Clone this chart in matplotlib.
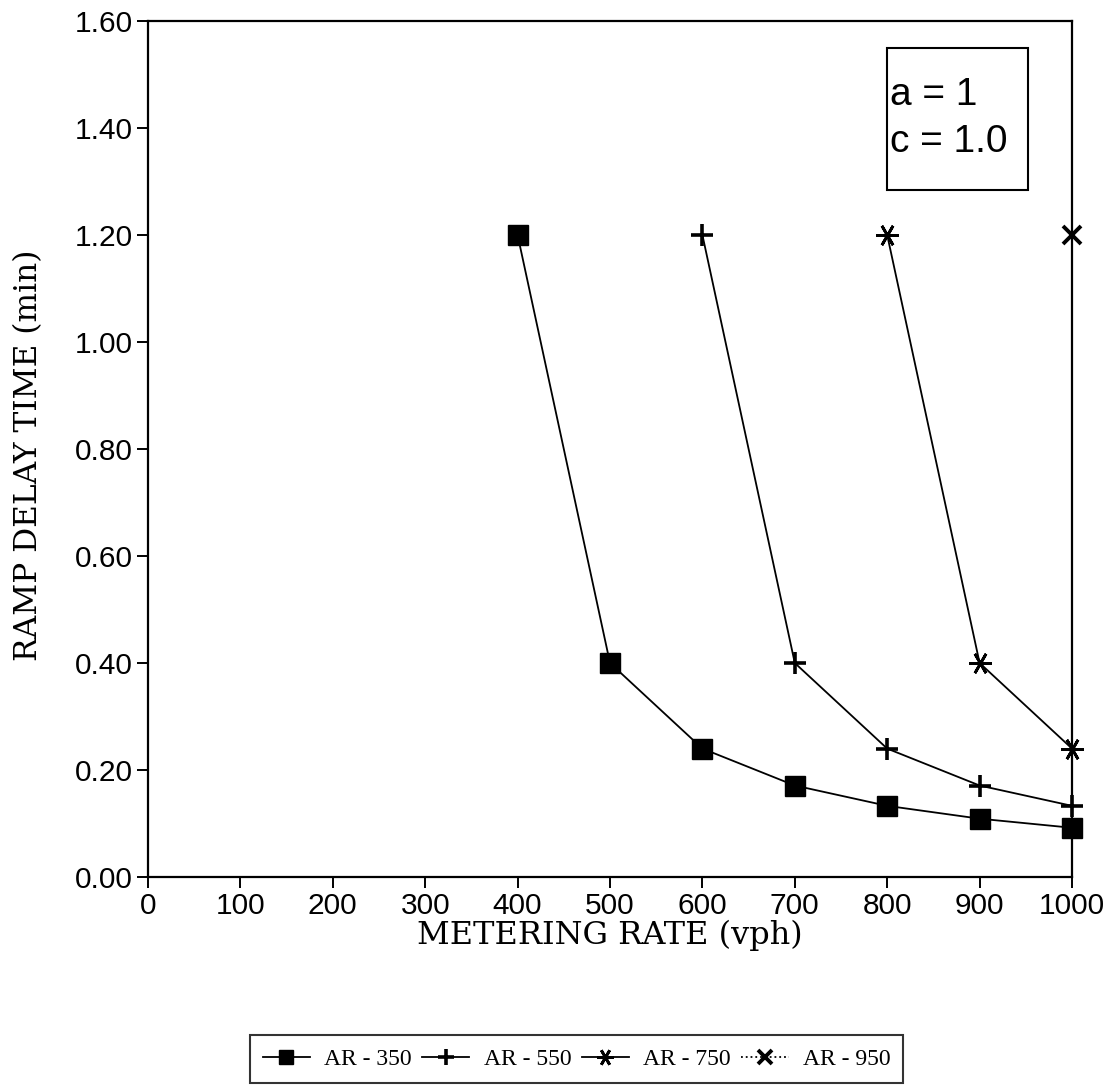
import matplotlib
matplotlib.use("Agg")
import matplotlib.pyplot as plt
from matplotlib.patches import Rectangle

# Data
metering_rate = [400, 500, 600, 700, 800, 900, 1000]
ar350 = [1.20, 0.40, 0.24, 0.171, 0.133, 0.109, 0.092]
rate_550 = [600, 700, 800, 900, 1000]
ar550 = [1.20, 0.40, 0.24, 0.171, 0.133]
rate_750 = [800, 900, 1000]
ar750 = [1.20, 0.40, 0.24]
rate_950 = [1000]
ar950 = [1.20]
labels = ["AR - 350", "AR - 550", "AR - 750", "AR - 950"]
xticks = list(range(0, 1001, 100))
yticks = [0.0, 0.2, 0.4, 0.6, 0.8, 1.0, 1.2, 1.4, 1.6]

W, H = 1115, 1086
fig = plt.figure(figsize=(W / 100, H / 100), dpi=100)
x0, x1, ytop, ybot = 148, 1072, 21, 877
ax = fig.add_axes([x0 / W, 1 - ybot / H, (x1 - x0) / W, (ybot - ytop) / H])

lw = 1.3
ax.plot(metering_rate, ar350, color="black", lw=lw, marker="s", ms=14,
        mfc="black", mec="black", label=labels[0], clip_on=False)
ax.plot(rate_550, ar550, color="black", lw=lw, marker="+", ms=16, mew=2.6,
        label=labels[1], clip_on=False)
ax.plot(rate_750, ar750, color="black", lw=lw, marker=(6, 2, 90), ms=16, mew=2.0,
        label=labels[2], clip_on=False)
ax.plot(rate_950, ar950, color="black", lw=lw, ls=":", marker="x", ms=13, mew=2.8,
        label=labels[3], clip_on=False)

ax.set_xlim(0, 1000)
ax.set_ylim(0, 1.6)
ax.set_xticks(xticks)
ax.set_yticks(yticks)
ax.set_xticklabels([str(v) for v in xticks])
ax.set_yticklabels([f"{v:.2f}" for v in yticks])
for s in ax.spines.values():
    s.set_linewidth(1.6)
ax.tick_params(direction="out", length=8, width=1.4, labelsize=21.5, pad=3)
for t in ax.get_xticklabels() + ax.get_yticklabels():
    t.set_fontfamily("Liberation Sans")

ax.set_xlabel("METERING RATE (vph)", fontfamily="DejaVu Serif", fontsize=23, labelpad=0)
ax.set_ylabel("RAMP DELAY TIME (min)", fontfamily="DejaVu Serif", fontsize=22.5)
ax.yaxis.set_label_coords((44 - x0) / (x1 - x0), (ybot - 455) / (ybot - ytop))

# Annotation box
bl, br, bt, bb = 887, 1028, 48, 190
def fx(px):
    return (px - x0) / (x1 - x0)
def fy(py):
    return (ybot - py) / (ybot - ytop)
ax.add_patch(Rectangle((fx(bl), fy(bb)), fx(br) - fx(bl), fy(bt) - fy(bb),
                       transform=ax.transAxes, fill=False, ec="black", lw=1.5,
                       clip_on=False))
ax.text(fx(890), fy(105), "a = 1", transform=ax.transAxes, fontsize=28,
        fontfamily="Liberation Sans", va="baseline", ha="left")
ax.text(fx(890), fy(152), "c = 1.0", transform=ax.transAxes, fontsize=28,
        fontfamily="Liberation Sans", va="baseline", ha="left")

leg = fig.legend(loc="center", bbox_to_anchor=(576.5 / W, 1 - 1059 / H), ncol=4,
                 frameon=True, fancybox=False, shadow=False, handlelength=2.0,
                 handletextpad=0.6, columnspacing=0.45, borderpad=0.55,
                 borderaxespad=0,
                 prop={"family": "Liberation Serif", "size": 17}, markerscale=0.75)
leg.get_frame().set_edgecolor("black")
leg.get_frame().set_linewidth(1.5)

fig.savefig("out.png", dpi=100)
